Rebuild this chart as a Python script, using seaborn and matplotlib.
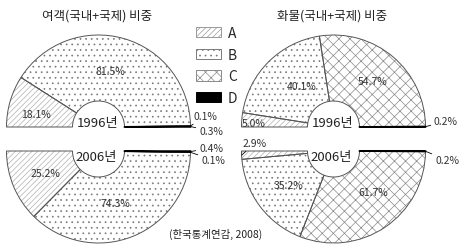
import matplotlib
matplotlib.use("Agg")
import matplotlib.pyplot as plt
import seaborn as sns
import numpy as np
from matplotlib.patches import Patch

# ---- data ----
categories = ["A", "B", "C", "D"]
years = ["1996년", "2006년"]
passenger_1996 = [18.1, 81.5, 0.1, 0.3]
passenger_2006 = [25.2, 74.3, 0.1, 0.4]
freight_1996 = [5.0, 40.1, 54.7, 0.2]
freight_2006 = [2.9, 35.2, 61.7, 0.2]
titles = ["여객(국내+국제) 비중", "화물(국내+국제) 비중"]
source = "(한국통계연감, 2008)"

sns.set_theme(style="white")
plt.rcParams['font.family'] = ['Noto Sans CJK KR', 'DejaVu Sans']
plt.rcParams['hatch.linewidth'] = 0.5

W, H = 471, 253
fig = plt.figure(figsize=(W / 100, H / 100), dpi=100)
ax = fig.add_axes([0, 0, 1, 1])

hatches = ['//////', '...', 'xxx', '']
hatch_colors = ['#b0b0b0', '#7a7a7a', '#8a8a8a', 'black']
faces = ['white', 'white', 'white', 'black']
R, R_IN = 92, 26
TXT = '#333333'


def half(vals, cx, cy, top):
    data = list(vals) + [sum(vals)]
    kw = dict(startangle=180, counterclock=not top, radius=R,
              center=(cx, H - cy), frame=True)
    wedges, _ = ax.pie(data, colors=faces + ['none'],
                       wedgeprops=dict(width=R - R_IN, linewidth=0), **kw)
    for w, h, c in zip(wedges, hatches, hatch_colors):
        w.set_hatch(h)
        w.set_edgecolor(c)
    wedges[-1].set_visible(False)
    outl, _ = ax.pie(data, colors=['none'] * 5,
                     wedgeprops=dict(width=R - R_IN, linewidth=0.7,
                                     edgecolor='#555555'), **kw)
    outl[-1].set_visible(False)
    for w, f in zip(outl[:-1], faces):
        if f == 'black':
            w.set_edgecolor('black')
            w.set_linewidth(1.1)
    return wedges[:-1]


def inner_label(w, vals_i, cx, cy, frac=0.64, ang=None):
    th = np.deg2rad(ang if ang is not None else (w.theta1 + w.theta2) / 2)
    ax.text(cx + frac * R * np.cos(th), H - cy + frac * R * np.sin(th),
            f"{vals_i:.1f}%", ha='center', va='center', fontsize=7.5, color=TXT)


def outer_label(w, val, cx, cy, tx, ty):
    th = np.deg2rad((w.theta1 + w.theta2) / 2)
    px, py = cx + R * np.cos(th), H - cy + R * np.sin(th)
    ax.annotate(f"{val:.1f}%", xy=(px, py), xytext=(tx, H - ty),
                ha='left', va='center', fontsize=7.5, color=TXT,
                arrowprops=dict(arrowstyle='-', color='black', lw=0.6,
                                shrinkA=0, shrinkB=0))


# left donut (passenger)
LX, RX = 98.5, 333.5
TY, BY = 128, 152
w = half(passenger_1996, LX, TY, True)
inner_label(w[0], passenger_1996[0], LX, TY, 0.7, 168)
inner_label(w[1], passenger_1996[1], LX, TY, 0.62, 78)
outer_label(w[2], passenger_1996[2], LX, TY, 194, 117)
outer_label(w[3], passenger_1996[3], LX, TY, 199, 132)

w = half(passenger_2006, LX, BY, False)
inner_label(w[0], passenger_2006[0], LX, BY, 0.62)
inner_label(w[1], passenger_2006[1], LX, BY, 0.6, 288)
outer_label(w[3], passenger_2006[3], LX, BY, 199, 149)
outer_label(w[2], passenger_2006[2], LX, BY, 201, 161)

# right donut (freight)
w = half(freight_1996, RX, TY, True)
inner_label(w[0], freight_1996[0], RX, TY, 0.87, 177)
inner_label(w[1], freight_1996[1], RX, TY, 0.56, 128)
inner_label(w[2], freight_1996[2], RX, TY, 0.66)
outer_label(w[3], freight_1996[3], RX, TY, 434, 122)

w = half(freight_2006, RX, BY, False)
outer_label(w[0], freight_2006[0], RX, BY, 243, 144)
inner_label(w[1], freight_2006[1], RX, BY, 0.61)
inner_label(w[2], freight_2006[2], RX, BY, 0.62, 314)
outer_label(w[3], freight_2006[3], RX, BY, 435, 161)

# year labels
for cx in (LX, RX):
    ax.text(cx - 1, H - 123, years[0], ha='center', va='center', fontsize=9.5, color='#222222')
    ax.text(cx - 2, H - 158, years[1], ha='center', va='center', fontsize=9.5, color='#222222')

# titles
ax.text(97, H - 16, titles[0], ha='center', va='center', fontsize=9, color='#222222')
ax.text(332, H - 16, titles[1], ha='center', va='center', fontsize=9, color='#222222')

# source
ax.text(216, H - 234, source, ha='center', va='center', fontsize=7.5, color='#222222')

# legend
handles = [Patch(facecolor=f, edgecolor=c, hatch=h, linewidth=0.7)
           for f, c, h in zip(faces, ['#999999', '#7a7a7a', '#8a8a8a', 'black'], hatches)]
ax.legend(handles, categories, loc='upper left', bbox_to_anchor=(196 / W, 1 - 27 / H),
          frameon=False, fontsize=10, handlelength=1.8, handleheight=0.75,
          labelspacing=0.55, handletextpad=0.5, borderpad=0, borderaxespad=0)

ax.set_xlim(0, W)
ax.set_ylim(0, H)
ax.set_aspect('auto')
ax.axis('off')
fig.savefig('out.png', dpi=100, facecolor='white')
